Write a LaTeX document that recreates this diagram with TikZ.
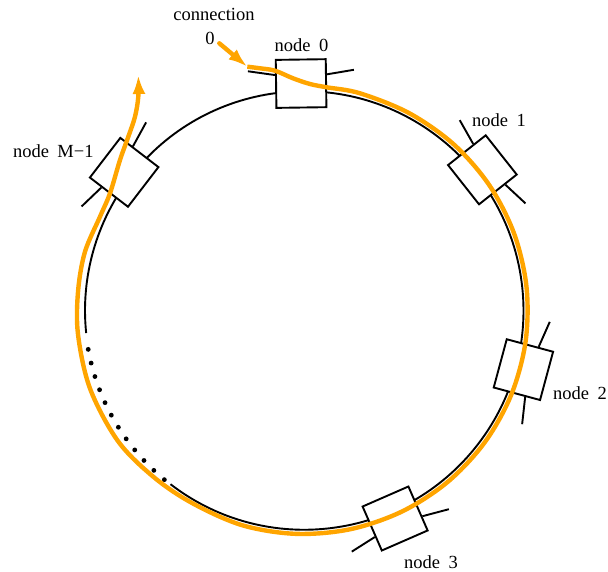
\documentclass[tikz,border=0pt]{standalone}
\usepackage{fontspec}
\setmainfont{Liberation Serif}
\usetikzlibrary{arrows.meta,calc}
\definecolor{conn}{RGB}{255,165,0}
\begin{document}
\begin{tikzpicture}[x=1pt,y=1pt,
  ring/.style={line width=1.9pt},
  box/.style={draw, line width=1.9pt, fill=white, minimum width=50pt,
    minimum height=48pt, inner sep=0pt, transform shape},
  stub/.style={line width=1.9pt},
  lbl/.style={font=\fontsize{18.5}{20}\selectfont, inner sep=0pt, anchor=base},
  conpath/.style={draw=conn, line width=4.4pt},
  tip/.style={-{Latex[length=19pt,width=13pt]}}
]
\useasboundingbox (-304.25,-260.5) rectangle (303.75,310.5);
\coordinate (C) at (0,0);

% the ring, with a gap filled by dots for the omitted nodes
\draw[ring] (232.4:219.25) arc[start angle=232.4, end angle=545.9, radius=219.25];
\foreach \i in {0,...,11} \fill ({190.2+\i*3.655}:219.5) circle (2.4);

% nodes on the ring, each with two outer stubs
\foreach \n/\a in {0/90.8,1/38.3,2/-15.1,3/-66.4,m/142.5}{
  \begin{scope}[rotate=\a-90]
    \node[box] (b\n) at (0,227) {};
    \coordinate (w\n) at (-53,240);
    \coordinate (e\n) at (53,240);
  \end{scope}
  \draw[stub] ($(b\n.west)!0.354!(b\n.north west)$) -- (w\n);
  \draw[stub] ($(b\n.east)!0.354!(b\n.north east)$) -- (e\n);
}

% labels
\node[lbl] (lc) at (-90.25,289.8) {connection};
\node[lbl] (lc0) at (-94.25,265.5) {0};
\node[lbl] (l0) at (-2.75,258.8) {node\hspace{0.45em}0};
\node[lbl] (l1) at (194.75,183.8) {node\hspace{0.45em}1};
\node[lbl] (l2) at (275.75,-88.8) {node\hspace{0.45em}2};
\node[lbl] (l3) at (126.75,-257.5) {node\hspace{0.45em}3};
\node[lbl] (lm) at (-250.85,152.8) {node\hspace{0.45em}M−1};

% connection 0 running round the ring
\coordinate (cs) at (-84.95,267.2);
\coordinate (ce) at (-56.95,243.8);
\draw[conpath, tip] plot[smooth, tension=0.55] coordinates {(ce) (-44.25,242.2)
  (-29.25,239.8) (-11.25,232.2) (5.75,226.5) (22.45,223.2) (55.75,217.2)
  (62:223.5) (48:223.5) (34:223.5) (20:223.5) (6:223.5) (-8:223.5)
  (-22:223.5) (-36:223.5) (-50:223.5) (-64:223.5) (-78:223.5) (-92:223.5)
  (-106:223.5) (-120:222.8) (-132:224.5) (-145:227.5) (-160:228)
  (-174:227.5) (175:227) (165:227) (-204.25,93.8) (-194.25,117.2)
  (-184.25,150.5) (-175.95,173.8) (-169.25,193.8) (-165.95,213.8)
  (-165.95,235.5)};
\draw[conpath, tip, line cap=round] (cs) -- (ce);
\end{tikzpicture}
\end{document}
